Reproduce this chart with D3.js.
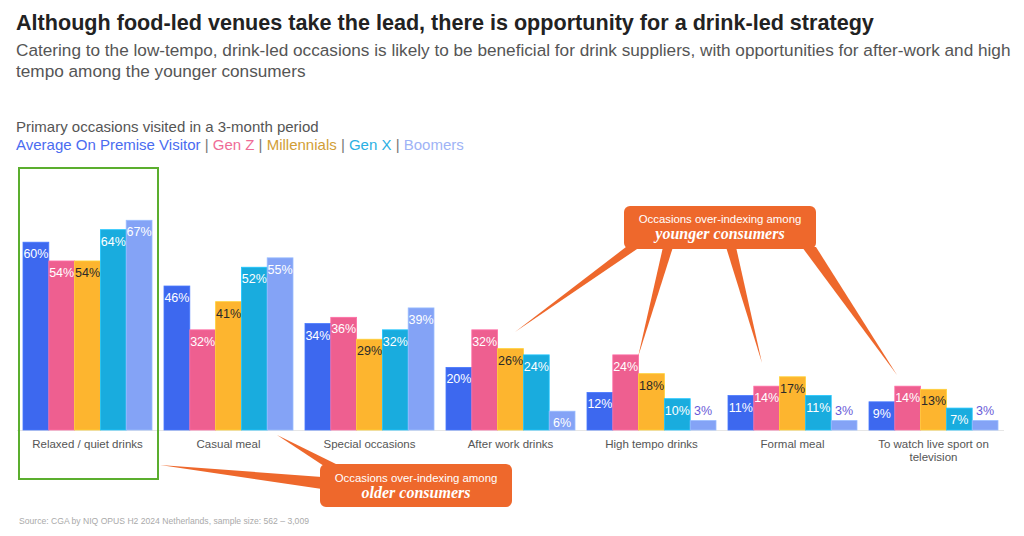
<!DOCTYPE html>
<html>
<head>
<meta charset="utf-8">
<script src="https://cdn.jsdelivr.net/npm/d3@7"></script>
<style>
  html, body { margin: 0; padding: 0; background: #fff; }
  svg { display: block; font-family: "Liberation Sans", Arial, sans-serif; }
</style>
</head>
<body>
<svg id="chart" width="1024" height="536"></svg>
<script>
// ---- data ----
const categories = [
  ["Relaxed / quiet drinks"],
  ["Casual meal"],
  ["Special occasions"],
  ["After work drinks"],
  ["High tempo drinks"],
  ["Formal meal"],
  ["To watch live sport on", "television"]
];
const seriesNames = ["Average On Premise Visitor", "Gen Z", "Millennials", "Gen X", "Boomers"];
const averageVisitor = [60, 46, 34, 20, 12, 11, 9];
const genZ          = [54, 32, 36, 32, 24, 14, 14];
const millennials   = [54, 41, 29, 26, 18, 17, 13];
const genX          = [64, 52, 32, 24, 10, 11, 7];
const boomers       = [67, 55, 39, 6, 3, 3, 3];
const seriesValues = [averageVisitor, genZ, millennials, genX, boomers];

const barColors    = ["#3d68ef", "#ee5f90", "#fdb52f", "#19acde", "#84a3f6"];
const legendColors = ["#4a6cf0", "#ef6b96", "#d19e36", "#2bb0e3", "#9eb3f6"];
const labelColors  = ["#ffffff", "#ffffff", "#2a2a2a", "#ffffff", "#ffffff"];

const svg = d3.select("#chart");

// ---- titles ----
svg.append("text").attr("x", 16).attr("y", 30)
  .attr("font-size", 21.6).attr("font-weight", "bold").attr("fill", "#222")
  .text("Although food-led venues take the lead, there is opportunity for a drink-led strategy");
svg.append("text").attr("x", 16).attr("y", 56)
  .attr("font-size", 17.2).attr("fill", "#555")
  .text("Catering to the low-tempo, drink-led occasions is likely to be beneficial for drink suppliers, with opportunities for after-work and high");
svg.append("text").attr("x", 16).attr("y", 77)
  .attr("font-size", 17.2).attr("fill", "#555")
  .text("tempo among the younger consumers");

svg.append("text").attr("x", 16).attr("y", 132)
  .attr("font-size", 15).attr("fill", "#555")
  .text("Primary occasions visited in a 3-month period");

const legend = svg.append("text").attr("x", 16).attr("y", 150).attr("font-size", 15);
seriesNames.forEach((n, i) => {
  if (i > 0) legend.append("tspan").attr("fill", "#777").text(" | ");
  legend.append("tspan").attr("fill", legendColors[i]).text(n);
});

// ---- scales ----
const x0 = d3.scaleBand().domain(d3.range(categories.length))
  .range([17, 1004]).paddingInner(12 / 141).paddingOuter(6 / 141);
const x1 = d3.scaleBand().domain(d3.range(seriesNames.length))
  .range([0, x0.bandwidth()]);
const y = d3.scaleLinear().domain([0, 100]).range([430, 117]);

// baseline
svg.append("line").attr("x1", 17).attr("x2", 1004)
  .attr("y1", y(0) + 0.5).attr("y2", y(0) + 0.5)
  .attr("stroke", "#e6e6e6").attr("stroke-width", 1);

// bars
const groups = svg.append("g").selectAll("g")
  .data(categories).join("g")
  .attr("transform", (d, i) => `translate(${x0(i)},0)`);

groups.each(function (cat, ci) {
  const g = d3.select(this);
  seriesValues.forEach((vals, si) => {
    const v = vals[ci];
    g.append("rect")
      .attr("x", x1(si)).attr("width", x1.bandwidth())
      .attr("y", y(v)).attr("height", y(0) - y(v))
      .attr("fill", barColors[si])
      .attr("stroke", d3.color(barColors[si]).brighter(0.4))
      .attr("stroke-width", 0.8);
    const small = v < 5;
    g.append("text")
      .attr("x", x1(si) + x1.bandwidth() / 2)
      .attr("y", small ? y(v) - 6 : y(v) + 16)
      .attr("text-anchor", "middle")
      .attr("font-size", 12.5)
      .attr("fill", small ? "#6a5ad8" : labelColors[si])
      .text(v + "%");
  });
  const lab = g.append("text")
    .attr("x", x0.bandwidth() / 2).attr("y", 448)
    .attr("text-anchor", "middle").attr("font-size", 11.5).attr("fill", "#555");
  cat.forEach((line, li) => {
    lab.append("tspan").attr("x", x0.bandwidth() / 2)
      .attr("dy", li === 0 ? 0 : 13).text(line);
  });
});

// ---- highlight box ----
svg.append("rect").attr("x", 19).attr("y", 168).attr("width", 139).attr("height", 311)
  .attr("fill", "none").attr("stroke", "#5bae2e").attr("stroke-width", 2);

// ---- callouts ----
const orange = "#ee682c";
const serif = "'Liberation Serif', 'DejaVu Serif', serif";
const callG = svg.append("g");
// older consumers spikes
callG.append("path").attr("fill", orange)
  .attr("d", "M160,465 L322,477 L322,489 Z");
callG.append("path").attr("fill", orange)
  .attr("d", "M277,435 L324,466 L340,466 Z");
callG.append("rect").attr("x", 320).attr("y", 464).attr("width", 192).attr("height", 43)
  .attr("rx", 6).attr("fill", orange);
callG.append("text").attr("x", 416).attr("y", 482).attr("text-anchor", "middle")
  .attr("font-size", 11.4).attr("fill", "#fff").text("Occasions over-indexing among");
callG.append("text").attr("x", 416).attr("y", 498).attr("text-anchor", "middle")
  .attr("font-size", 16).attr("font-weight", "bold").attr("font-style", "italic")
  .attr("font-family", serif)
  .attr("fill", "#fff").text("older consumers");

// younger consumers spikes
callG.append("path").attr("fill", orange).attr("d", "M626,247 L640,247 L515,332 Z");
callG.append("path").attr("fill", orange).attr("d", "M663,247 L673,247 L638,357 Z");
callG.append("path").attr("fill", orange).attr("d", "M726,247 L736,247 L762,363 Z");
callG.append("path").attr("fill", orange).attr("d", "M802,247 L816,247 L897,375 Z");
callG.append("rect").attr("x", 624).attr("y", 206).attr("width", 192).attr("height", 43)
  .attr("rx", 6).attr("fill", orange);
callG.append("text").attr("x", 720).attr("y", 223).attr("text-anchor", "middle")
  .attr("font-size", 11.4).attr("fill", "#fff").text("Occasions over-indexing among");
callG.append("text").attr("x", 720).attr("y", 239).attr("text-anchor", "middle")
  .attr("font-size", 16).attr("font-weight", "bold").attr("font-style", "italic")
  .attr("font-family", serif)
  .attr("fill", "#fff").text("younger consumers");

// ---- source ----
svg.append("text").attr("x", 19).attr("y", 524)
  .attr("font-size", 8.6).attr("fill", "#aaa")
  .text("Source: CGA by NIQ OPUS H2 2024 Netherlands, sample size: 562 \u2013 3,009");
</script>
</body>
</html>
